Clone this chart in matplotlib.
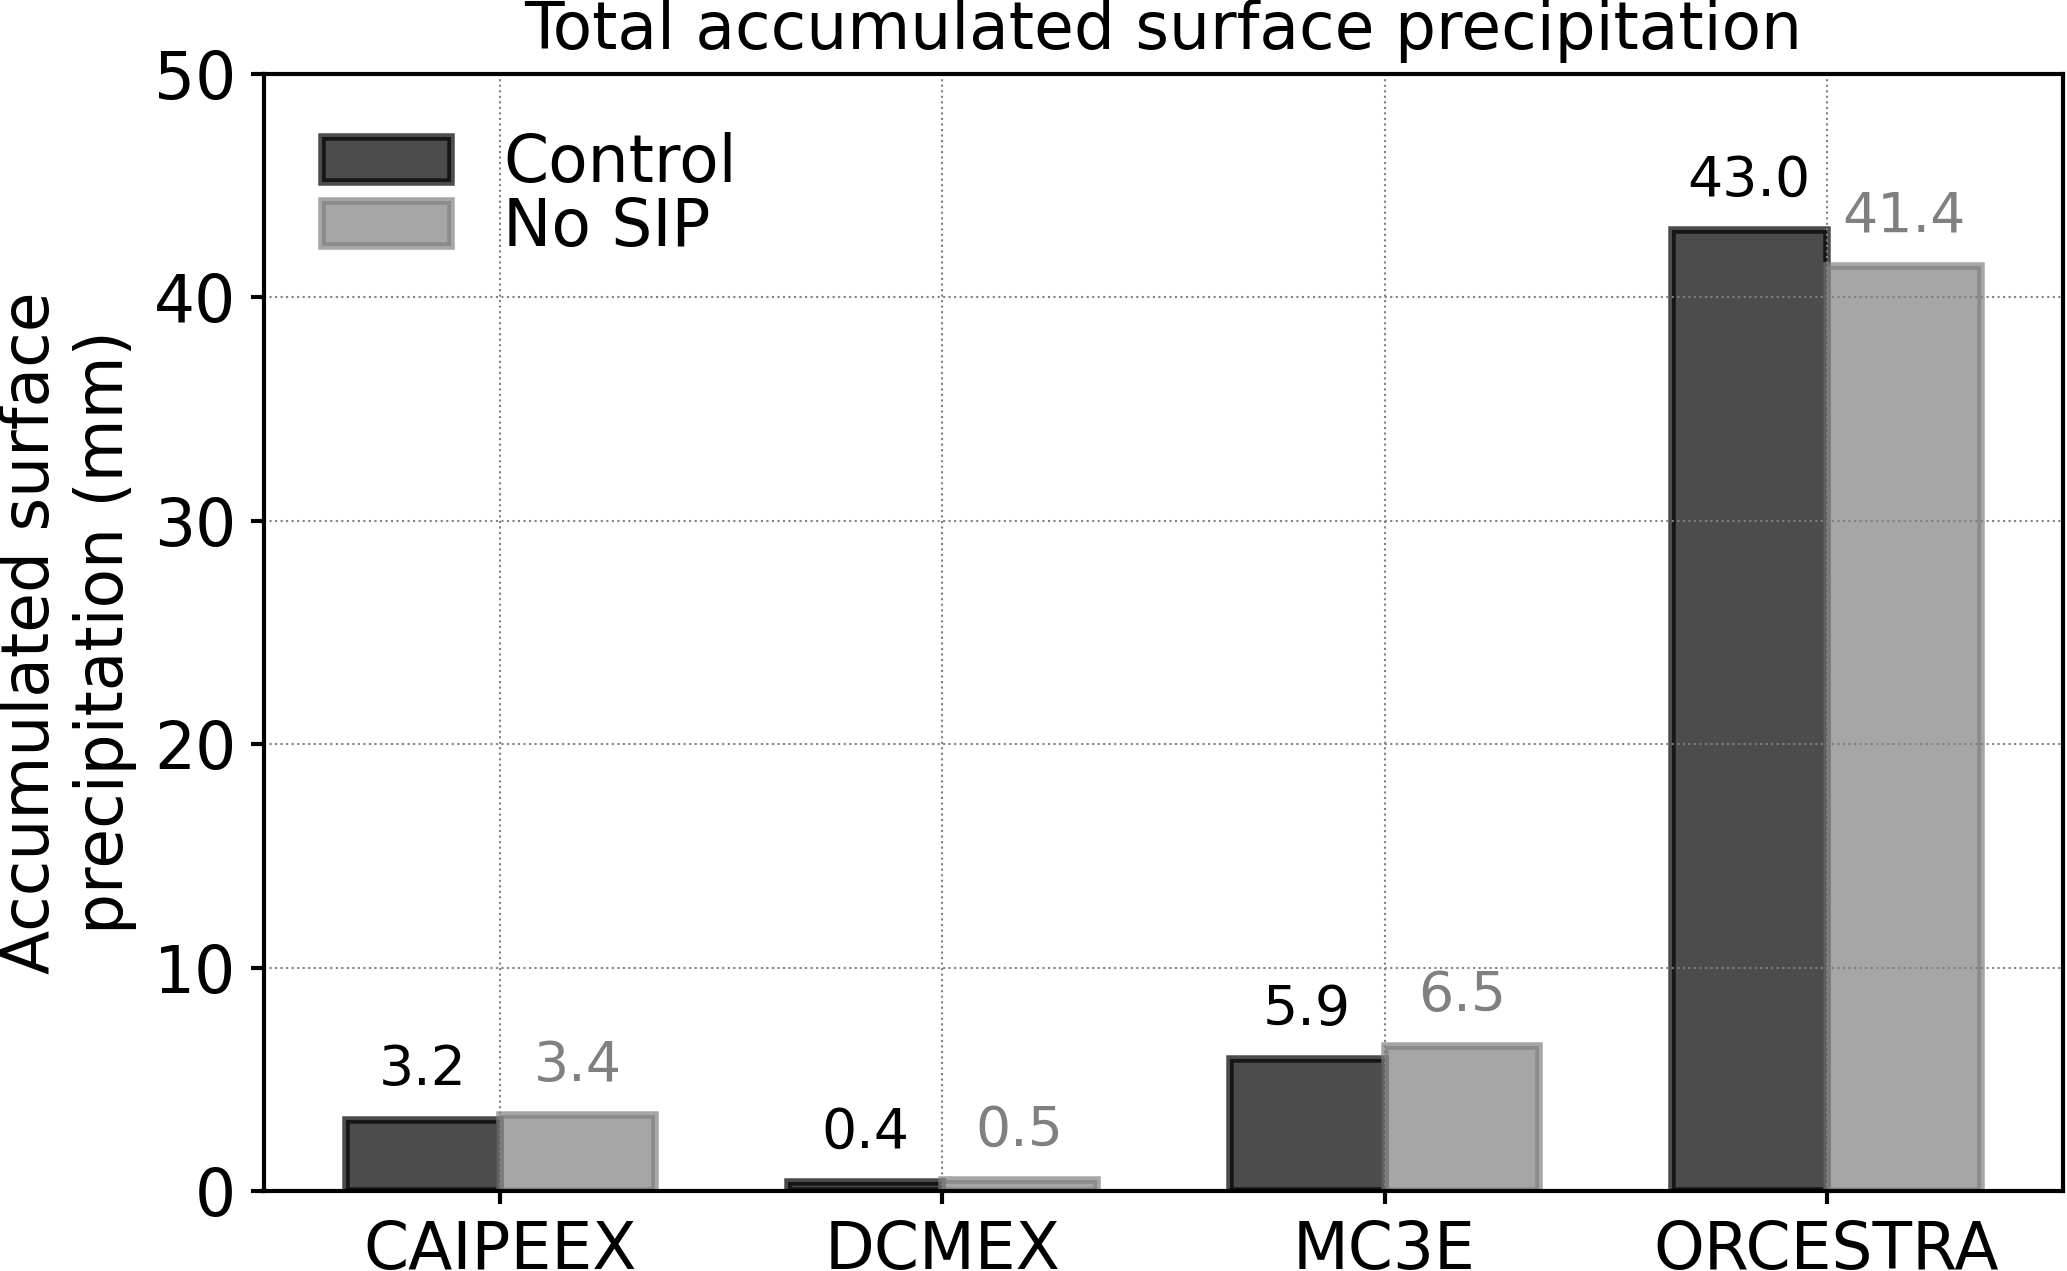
import matplotlib
matplotlib.use("Agg")
import matplotlib.pyplot as plt
import numpy as np

# campaigns and accumulated precipitation (mm)
campaigns = ["CAIPEEX", "DCMEX", "MC3E", "ORCESTRA"]
control = [3.2, 0.4, 5.9, 43.0]
no_sip = [3.4, 0.5, 6.5, 41.4]

plt.rcParams["font.family"] = "DejaVu Sans"
plt.rcParams["font.size"] = 15.5

fig = plt.figure(figsize=(2067 / 300, 1271 / 300), dpi=300)
ax = fig.add_axes([264 / 2067, 1 - 1191 / 1271, (2063 - 264) / 2067, (1191 - 74) / 1271])

x = np.arange(len(campaigns))
width = 0.35

bars_c = ax.bar(x - width / 2, control, width, color="black", edgecolor="black",
                alpha=0.7, linewidth=1.8, label="Control")
bars_n = ax.bar(x + width / 2, no_sip, width, color="gray", edgecolor="gray",
                alpha=0.7, linewidth=1.8, label="No SIP")

# value labels above each bar
for xi, v in zip(x - width / 2, control):
    ax.text(xi, v + 1, f"{v:.1f}", ha="center", va="bottom", fontsize=13.3, color="black")
for xi, v in zip(x + width / 2, no_sip):
    ax.text(xi, v + 1, f"{v:.1f}", ha="center", va="bottom", fontsize=13.3, color="gray")

ax.set_ylim(0, 50)
ax.set_xticks(x)
ax.set_xticklabels(campaigns)
ax.set_ylabel("Accumulated surface\nprecipitation (mm)")
ax.set_title("Total accumulated surface precipitation", fontsize=15.5)

ax.grid(True, linestyle=":", color="gray", linewidth=0.5)
for s in ax.spines.values():
    s.set_linewidth(1.0)
ax.tick_params(width=1.0, length=3.2)

ax.legend(loc="upper left", frameon=False, labelspacing=0.0)

fig.savefig("out.png", dpi=300)
